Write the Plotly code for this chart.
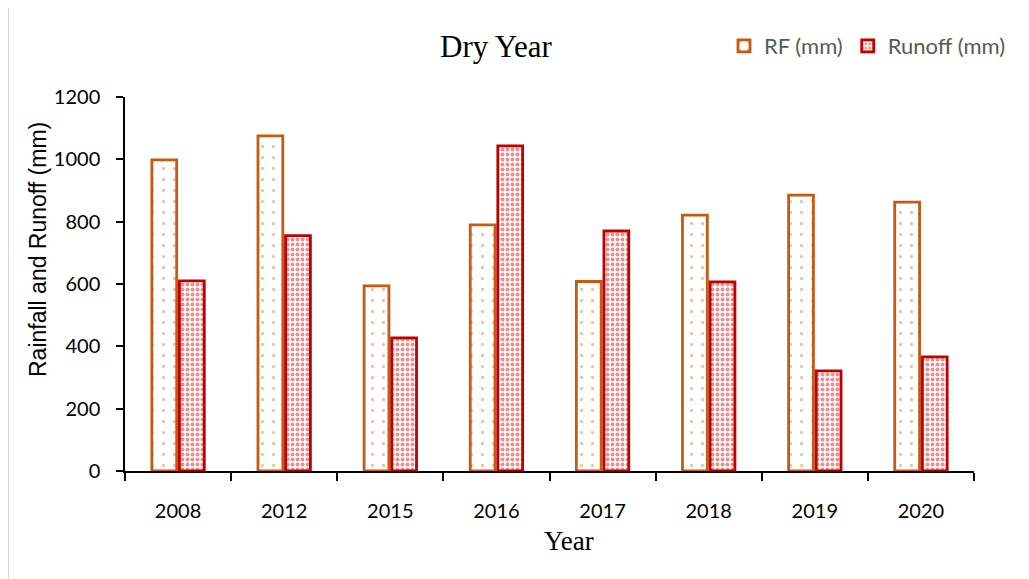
import plotly.graph_objects as go

years = ["2008", "2012", "2015", "2016", "2017", "2018", "2019", "2020"]
rf_mm = [998, 1075, 594, 790, 608, 821, 885, 863]
runoff_mm = [610, 755, 427, 1043, 770, 607, 321, 366]
y_ticks = [0, 200, 400, 600, 800, 1000, 1200]

OFF = 8  # page body margin
L, R, T, B = 117, 55, 89, 108
W, H = 1021, 571
pw, ph = W - L - R, H - T - B


def px_x(p):
    return (p - OFF - L) / pw


def px_y(p):
    return (H - B - (p - OFF)) / ph


fig = go.Figure()
fig.add_trace(go.Bar(
    x=years, y=rf_mm, name="RF (mm)",
    marker=dict(color="white", line=dict(color="#C55A11", width=2.8),
                pattern=dict(shape=".", fgcolor="#E0874A", bgcolor="white",
                             size=11, solidity=0.07, fillmode="overlay")),
))
fig.add_trace(go.Bar(
    x=years, y=runoff_mm, name="Runoff (mm)",
    marker=dict(color="white", line=dict(color="#C00000", width=2.8),
                pattern=dict(shape=".", fgcolor="#D91F1F", bgcolor="white",
                             size=5, solidity=0.5, fillmode="overlay")),
))

fig.update_layout(
    width=W, height=H,
    margin=dict(l=L, r=R, t=T, b=B),
    paper_bgcolor="white", plot_bgcolor="white",
    barmode="group", bargap=0.48, bargroupgap=0.1,
    showlegend=True,
    legend=dict(orientation="h", x=px_x(724), xanchor="left", y=px_y(46), yanchor="middle",
                font=dict(family="Lato", size=22, color="#595959"),
                itemwidth=30, traceorder="normal", bgcolor="rgba(0,0,0,0)"),
    xaxis=dict(showline=True, linecolor="black", linewidth=1.5, ticks="outside",
               tickson="boundaries", ticklen=8, tickcolor="black", tickwidth=1.5,
               ticklabelstandoff=21,
               tickfont=dict(family="Lato", size=20, color="black"),
               showgrid=False),
    yaxis=dict(range=[0, 1200], tickvals=y_ticks, showline=True, linecolor="black", linewidth=1.5,
               ticks="outside", ticklen=7, tickcolor="black", tickwidth=1.5,
               ticklabelstandoff=12,
               tickfont=dict(family="Lato", size=20, color="black"),
               showgrid=False, zeroline=False),
    annotations=[
        dict(text="Dry Year", xref="paper", yref="paper", x=px_x(496), y=px_y(47),
             xanchor="center", yanchor="middle", showarrow=False,
             font=dict(family="Liberation Serif", size=31, color="black")),
        dict(text="Year", xref="paper", yref="paper", x=px_x(569), y=px_y(541),
             xanchor="center", yanchor="middle", showarrow=False,
             font=dict(family="Liberation Serif", size=27, color="black")),
        dict(text="Rainfall and Runoff (mm)", xref="paper", yref="paper", x=px_x(38), y=px_y(250),
             xanchor="center", yanchor="middle", showarrow=False, textangle=-90,
             font=dict(family="Liberation Sans", size=23, color="black")),
    ],
    shapes=[dict(type="rect", xref="paper", yref="paper",
                 x0=px_x(8), x1=px_x(1045), y0=px_y(595), y1=px_y(7),
                 line=dict(color="#D9D9D9", width=2), fillcolor="rgba(0,0,0,0)", layer="below")],
)

fig.write_html("out.html")
